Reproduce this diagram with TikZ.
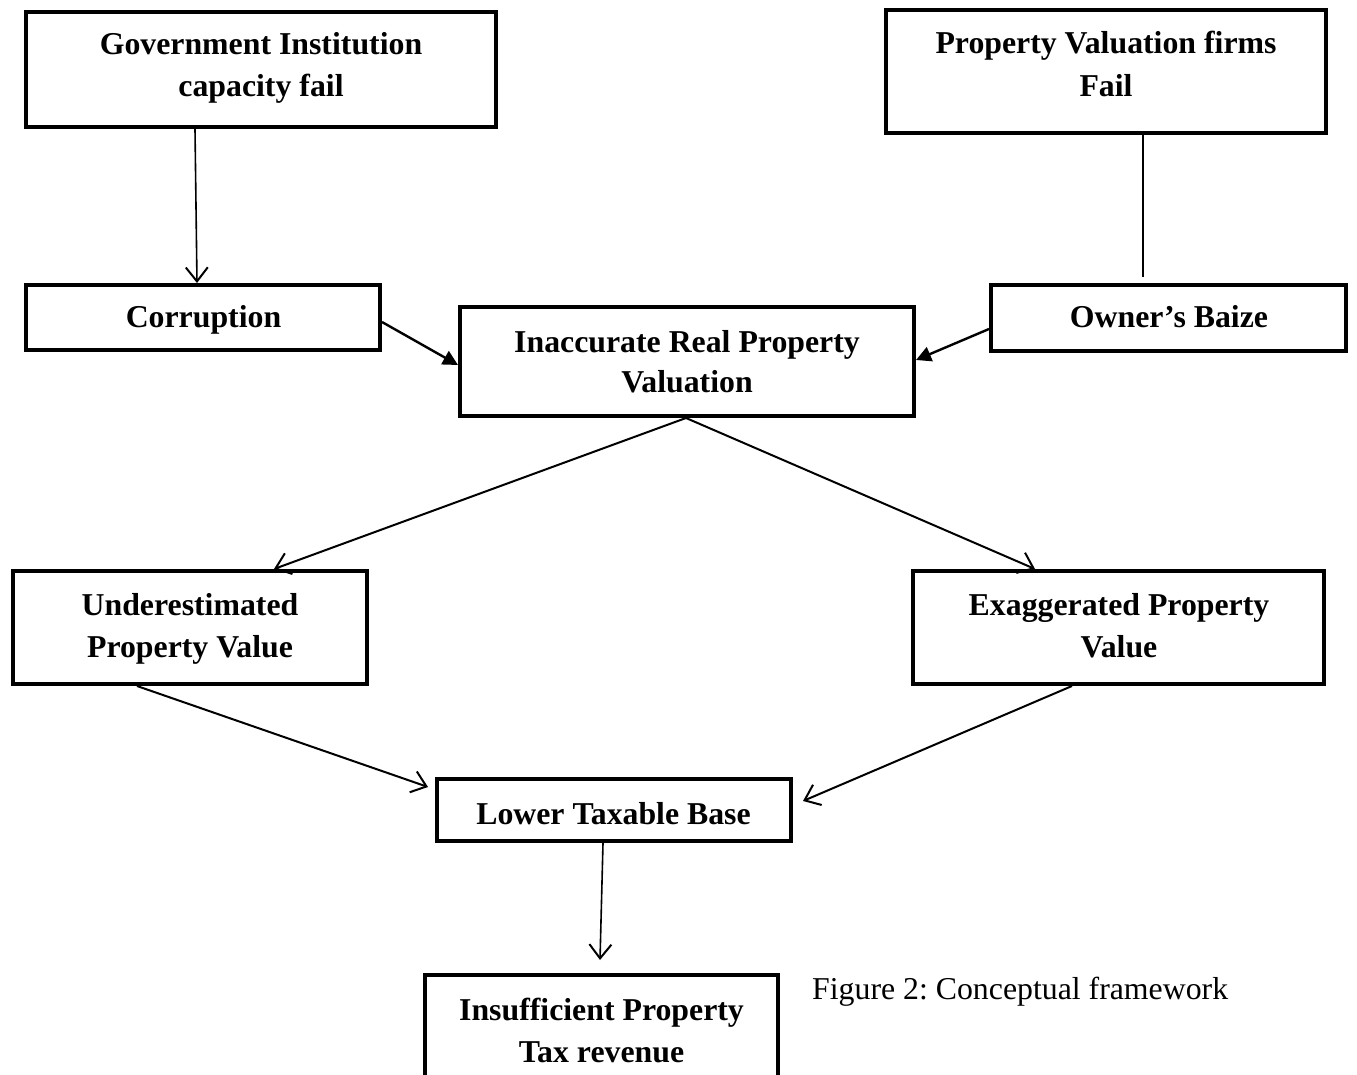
\documentclass[tikz,border=0pt]{standalone}
\usepackage{fontspec}
\setmainfont{Liberation Serif}
\usetikzlibrary{arrows.meta}
\frenchspacing
\begin{document}
\begin{tikzpicture}[x=1pt,y=-1pt,
  box/.style={draw=black, line width=4pt, rectangle, inner sep=0pt},
  lbl/.style={anchor=base, inner sep=0pt, yshift=-2pt, font=\fontsize{31.8}{42}\selectfont\bfseries},
  captext/.style={anchor=base west, inner sep=0pt, yshift=-2pt, font=\fontsize{31.8}{42}\selectfont},
  openarr/.style={line width=2pt, -{Straight Barb[length=14pt,width=22pt,line width=2pt]}},
  fillarr/.style={line width=2.4pt, -{Triangle[length=15pt,width=15pt]}},
  plainline/.style={line width=1.6pt}
]
\useasboundingbox (0,0) rectangle (1357,1075);
\fill[white] (0,0) rectangle (1357,1075);
\clip (0,0) rectangle (1357,1075);

% boxes
\node[box, minimum width=470pt, minimum height=115pt] (gov) at (261,69.5) {};
\node[box, minimum width=440pt, minimum height=123pt] (pvf) at (1106,71.5) {};
\node[box, minimum width=354pt, minimum height=65pt] (corr) at (203,317.5) {};
\node[box, minimum width=355pt, minimum height=66pt] (owner) at (1168.5,318) {};
\node[box, minimum width=454pt, minimum height=109pt] (inacc) at (687,361.5) {};
\node[box, minimum width=354pt, minimum height=113pt] (under) at (190,627.5) {};
\node[box, minimum width=411pt, minimum height=113pt] (exag) at (1118.5,627.5) {};
\node[box, minimum width=354pt, minimum height=62pt] (lower) at (614,810) {};
\node[box, minimum width=353pt, minimum height=126pt] (insuf) at (601.5,1038) {};

% texts
\node[lbl] (gov1) at (261,53) {Government Institution};
\node[lbl] (gov2) at (261,95) {capacity fail};
\node[lbl] (pvf1) at (1106,52) {Property Valuation firms};
\node[lbl] (pvf2) at (1106,95) {Fail};
\node[lbl] (corr1) at (203.5,325) {Corruption};
\node[lbl] (owner1) at (1169,325) {Owner’s Baize};
\node[lbl] (inacc1) at (687,350) {Inaccurate Real Property};
\node[lbl] (inacc2) at (687,390) {Valuation};
\node[lbl] (under1) at (190,613) {Underestimated};
\node[lbl] (under2) at (190,655) {Property Value};
\node[lbl] (exag1) at (1119,613) {Exaggerated Property};
\node[lbl] (exag2) at (1119,655) {Value};
\node[lbl] (lower1) at (613.5,822) {Lower Taxable Base};
\node[lbl] (insuf1) at (601.5,1018) {Insufficient Property};
\node[lbl] (insuf2) at (601.5,1060) {Tax revenue};
\node[captext] (caption) at (812,997) {Figure 2: Conceptual framework};

% connectors
\draw[openarr, line width=1.6pt] ([xshift=-66pt]gov.south) -- ([xshift=-6pt]corr.north);
\draw[plainline] ([xshift=37pt]pvf.south) -- ([xshift=-25.5pt,yshift=6pt]owner.north);
\draw[fillarr] ([yshift=-4.5pt]corr.east) -- ([yshift=-3.5pt]inacc.west);
\draw[fillarr] ([yshift=-11pt]owner.west) -- ([yshift=1.5pt]inacc.east);
\draw[openarr] ([xshift=-1pt]inacc.south) -- ([xshift=84pt]under.north);
\draw[openarr] ([xshift=-1pt]inacc.south) -- ([xshift=-83.5pt]exag.north);
\draw[openarr] ([xshift=-53pt]under.south) -- ([xshift=-7pt,yshift=23pt]lower.west);
\draw[openarr] ([xshift=-46.5pt]exag.south) -- ([xshift=10pt,yshift=9pt]lower.east);
\draw[openarr, line width=1.6pt] ([xshift=-11pt]lower.south) -- ([xshift=-1.5pt,yshift=13pt]insuf.north);
\end{tikzpicture}
\end{document}
